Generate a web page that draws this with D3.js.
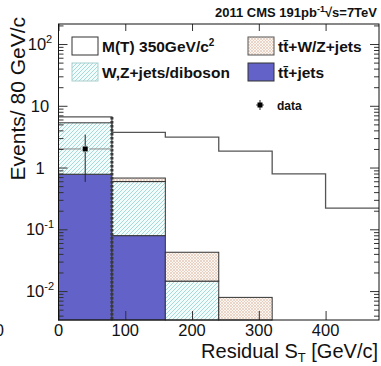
<!DOCTYPE html>
<html>
<head>
<meta charset="utf-8">
<script src="https://cdn.jsdelivr.net/npm/d3@7"></script>
<style>
  html, body { margin: 0; padding: 0; background: #fff; }
  svg { display: block; }
  text { font-family: "Liberation Sans", Arial, Helvetica, sans-serif; }
</style>
</head>
<body>
<svg id="chart" width="381" height="366"></svg>
<script>
// Histogram bins (GeV/c)
const binEdges = [0, 80, 160, 240, 320, 400, 480];
// Stacked backgrounds, bottom to top
const ttJets   = [0.78, 0.079, 0, 0, 0, 0];
const wzJets   = [4.52, 0.514, 0.0145, 0, 0, 0];
const ttWZJets = [0, 0.083, 0.028, 0.0079, 0, 0];
// Signal hypothesis, drawn as an outline
const signalMT350 = [6.6, 3.7, 3.1, 1.85, 0.79, 0.22];
// Observed data
const dataX = [40];
const dataY = [2];
const dataErr = [1.414];
const dataXErr = [40];
// Axis ticks
const xTicks = [0, 100, 200, 300, 400];
const yMajorTicks = [0.01, 0.1, 1, 10, 100];
const yTickBase = ["10", "10", "1", "10", "10"];
const yTickExp  = ["-2", "-1", "", "", "2"];

const svg = d3.select("#chart");
const L = 58.5, R = 379, T = 24, B = 320;

const x = d3.scaleLinear().domain([0, 480]).range([L, R]);
const y = d3.scaleLog().domain([0.0034, 211]).range([B, T]);

const defs = svg.append("defs");
// diagonal hatch for W,Z+jets/diboson
const hatch = defs.append("pattern").attr("id", "hatchWZ")
  .attr("patternUnits", "userSpaceOnUse").attr("width", 4).attr("height", 4);
hatch.append("rect").attr("width", 4).attr("height", 4).attr("fill", "#f3fbfb");
hatch.append("path").attr("d", "M-1,1 L1,-1 M0,4 L4,0 M3,5 L5,3")
  .attr("stroke", "#9ad6d6").attr("stroke-width", 0.9);
// fine cross hatch for ttbar+W/Z+jets
const cross = defs.append("pattern").attr("id", "crossTTWZ")
  .attr("patternUnits", "userSpaceOnUse").attr("width", 3).attr("height", 3);
cross.append("rect").attr("width", 3).attr("height", 3).attr("fill", "#fbf6f2");
cross.append("path").attr("d", "M0,0 L3,3 M3,0 L0,3")
  .attr("stroke", "#e3c9b8").attr("stroke-width", 0.7);

svg.append("rect").attr("x", L).attr("y", T).attr("width", R - L).attr("height", B - T)
  .attr("fill", "#fff");

// stacked histogram
const layers = [
  { vals: ttJets,   fill: "#6262c8" },
  { vals: wzJets,   fill: "url(#hatchWZ)" },
  { vals: ttWZJets, fill: "url(#crossTTWZ)" }
];
const cum = binEdges.slice(0, -1).map(() => 0);
const gStack = svg.append("g");
layers.forEach(layer => {
  layer.vals.forEach((v, i) => {
    const lo = cum[i];
    const hi = lo + v;
    cum[i] = hi;
    if (v <= 0) return;
    const yTop = y(hi);
    const yBot = lo > 0 ? y(lo) : B;
    gStack.append("rect")
      .attr("x", x(binEdges[i])).attr("width", x(binEdges[i + 1]) - x(binEdges[i]))
      .attr("y", yTop).attr("height", yBot - yTop)
      .attr("fill", layer.fill).attr("stroke", "#333").attr("stroke-width", 1);
  });
});

// signal outline (step)
let sigPath = "";
signalMT350.forEach((v, i) => {
  const x0 = x(binEdges[i]), x1 = x(binEdges[i + 1]), yy = y(v);
  sigPath += (i === 0 ? "M" : "L") + x0 + "," + yy + "L" + x1 + "," + yy;
});
svg.append("path").attr("d", sigPath).attr("fill", "none")
  .attr("stroke", "#555").attr("stroke-width", 1.3);

// dashed line at the first bin edge
svg.append("line").attr("x1", x(80)).attr("x2", x(80))
  .attr("y1", y(signalMT350[0])).attr("y2", B)
  .attr("stroke", "#3a3a3a").attr("stroke-width", 3).attr("stroke-dasharray", "2.5,1.5");

// data with errors
dataX.forEach((dx, i) => {
  const cx = x(dx), cy = y(dataY[i]);
  svg.append("line").attr("x1", x(dx - dataXErr[i])).attr("x2", cx - 4)
    .attr("y1", cy).attr("y2", cy).attr("stroke", "#888").attr("stroke-width", 1);
  svg.append("line").attr("x1", cx + 4).attr("x2", x(dx + dataXErr[i]))
    .attr("y1", cy).attr("y2", cy).attr("stroke", "#888").attr("stroke-width", 1);
  svg.append("line").attr("x1", cx).attr("x2", cx)
    .attr("y1", y(dataY[i] + dataErr[i])).attr("y2", cy - 3)
    .attr("stroke", "#222").attr("stroke-width", 1);
  svg.append("line").attr("x1", cx).attr("x2", cx)
    .attr("y1", cy + 3).attr("y2", y(dataY[i] - dataErr[i]))
    .attr("stroke", "#222").attr("stroke-width", 1);
  svg.append("rect").attr("x", cx - 2.5).attr("y", cy - 2.5)
    .attr("width", 5).attr("height", 5).attr("fill", "#000");
});

// axes (ticks inward, ROOT style)
const yMinor = [];
for (let e = -3; e <= 2; e++) {
  for (let m = 2; m <= 9; m++) {
    const v = m * Math.pow(10, e);
    if (v >= y.domain()[0] && v <= y.domain()[1]) yMinor.push(v);
  }
}
function styleAxis(g) {
  g.select(".domain").remove();
  g.selectAll(".tick line").attr("stroke", "#333");
  g.selectAll(".tick text").remove();
}
svg.append("g").attr("transform", `translate(${L},0)`)
  .call(d3.axisLeft(y).tickValues(yMajorTicks).tickSize(-9)).call(styleAxis);
svg.append("g").attr("transform", `translate(${L},0)`)
  .call(d3.axisLeft(y).tickValues(yMinor).tickSize(-5)).call(styleAxis);
svg.append("g").attr("transform", `translate(${R},0)`)
  .call(d3.axisRight(y).tickValues(yMajorTicks).tickSize(-9)).call(styleAxis);
svg.append("g").attr("transform", `translate(${R},0)`)
  .call(d3.axisRight(y).tickValues(yMinor).tickSize(-5)).call(styleAxis);
svg.append("g").attr("transform", `translate(0,${B})`)
  .call(d3.axisBottom(x).tickValues(xTicks).tickSize(-9)).call(styleAxis);
svg.append("g").attr("transform", `translate(0,${T})`)
  .call(d3.axisTop(x).tickValues(xTicks).tickSize(-7)).call(styleAxis);

// frame
svg.append("rect").attr("x", L).attr("y", T).attr("width", R - L).attr("height", B - T)
  .attr("fill", "none").attr("stroke", "#111").attr("stroke-width", 1);

// tick labels
xTicks.forEach(v => {
  svg.append("text").attr("x", x(v)).attr("y", 336).attr("text-anchor", "middle")
    .attr("font-size", 16.5).attr("fill", "#111").text(v);
});
svg.append("text").attr("x", 4).attr("y", 336).attr("text-anchor", "end")
  .attr("font-size", 16.5).attr("fill", "#111").text("0");
yMajorTicks.forEach((v, i) => {
  const t = svg.append("text").attr("x", 40).attr("y", y(v) + 6)
    .attr("text-anchor", "middle").attr("font-size", 16.5).attr("fill", "#111");
  t.append("tspan").text(yTickBase[i]);
  if (yTickExp[i]) t.append("tspan").attr("dy", -7).attr("font-size", 11).text(yTickExp[i]);
});

// axis titles
const xt = svg.append("text").attr("x", 378).attr("y", 358).attr("text-anchor", "end")
  .attr("font-size", 20).attr("fill", "#111");
xt.append("tspan").text("Residual S");
xt.append("tspan").attr("dy", 4).attr("font-size", 13).text("T");
xt.append("tspan").attr("dy", -4).text(" [GeV/c]");

svg.append("text").attr("transform", "translate(25,17) rotate(-90)")
  .attr("text-anchor", "end").attr("font-size", 21).attr("fill", "#111")
  .text("Events/ 80 GeV/c");

// header
const hd = svg.append("text").attr("x", 377).attr("y", 17).attr("text-anchor", "end")
  .attr("font-size", 13).attr("font-weight", "bold").attr("fill", "#111");
hd.append("tspan").text("2011 CMS 191pb");
hd.append("tspan").attr("dy", -5).attr("font-size", 9).text("-1");
hd.append("tspan").attr("dy", 5).text("\u221As=7TeV");

// legend
const legend = [
  { x: 72, y: 37, fill: "#fff", stroke: "#333", label: ["M(T) 350GeV/c", "2"] },
  { x: 72, y: 63, fill: "url(#hatchWZ)", stroke: "#a9cfcf", label: ["W,Z+jets/diboson"] },
  { x: 248, y: 37, fill: "url(#crossTTWZ)", stroke: "#555", label: ["t\u0074\u0304+W/Z+jets"] },
  { x: 248, y: 63, fill: "#6262c8", stroke: "#333", label: ["t\u0074\u0304+jets"] }
];
legend.forEach(d => {
  svg.append("rect").attr("x", d.x).attr("y", d.y).attr("width", 26).attr("height", 18)
    .attr("fill", d.fill).attr("stroke", d.stroke).attr("stroke-width", 1);
  const t = svg.append("text").attr("x", d.x + 30).attr("y", d.y + 15)
    .attr("font-size", 15.5).attr("font-weight", "bold").attr("fill", "#111");
  t.append("tspan").text(d.label[0]);
  if (d.label[1]) t.append("tspan").attr("dy", -6).attr("font-size", 10).text(d.label[1]);
});
// data legend entry
svg.append("line").attr("x1", 256).attr("x2", 264).attr("y1", 105).attr("y2", 105)
  .attr("stroke", "#555");
svg.append("line").attr("x1", 260).attr("x2", 260).attr("y1", 100).attr("y2", 110)
  .attr("stroke", "#222");
svg.append("rect").attr("x", 257.5).attr("y", 102.5).attr("width", 5).attr("height", 5)
  .attr("fill", "#000");
svg.append("text").attr("x", 277).attr("y", 110).attr("font-size", 12)
  .attr("font-weight", "bold").attr("fill", "#111").text("data");
</script>
</body>
</html>
